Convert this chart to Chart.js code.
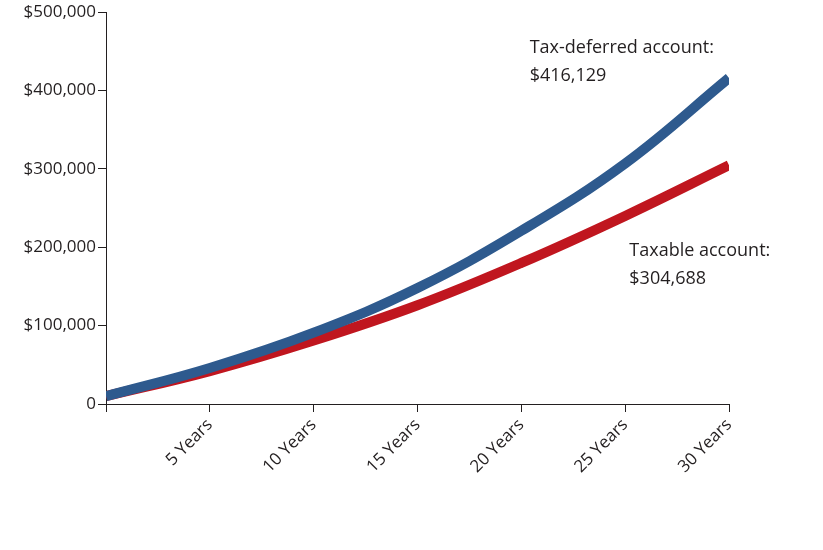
<!DOCTYPE html>
<html>
<head>
<meta charset="utf-8">
<script src="https://cdn.jsdelivr.net/npm/chart.js@4/dist/chart.umd.min.js"></script>
<style>
  html, body { margin: 0; padding: 0; background: #fff; }
  #wrap { width: 823px; height: 550px; }
</style>
</head>
<body>
<div id="wrap"><canvas id="growthChart"></canvas></div>
<script>
// --- data ---
const years = [0, 5, 10, 15, 20, 25, 30];
const taxDeferred = [10000, 46000, 91000, 148000, 221000, 307000, 416129];
const taxable = [10000, 42000, 81000, 126000, 180000, 240000, 304688];
const yTicks = [0, 100000, 200000, 300000, 400000, 500000];

// callout texts: [lines, x in years, y in dollars]
const callouts = [
    [['Tax-deferred account:', '$416,129'], 20.4, 455000],
    [['Taxable account:', '$304,688'], 25.2, 195000]
];

const FONT = '"Open Sans", sans-serif';

// draws the two account labels
const calloutPlugin = {
    id: 'callouts',
    afterDraw(chart) {
        const ctx = chart.ctx;
        const xs = chart.scales.x, ys = chart.scales.y;
        ctx.save();
        ctx.fillStyle = '#231f20';
        ctx.font = '18px ' + FONT;
        ctx.textBaseline = 'middle';
        ctx.textAlign = 'left';
        callouts.forEach(([lines, xv, yv]) => {
            const px = xs.getPixelForValue(xv);
            const py = ys.getPixelForValue(yv);
            lines.forEach((t, i) => ctx.fillText(t, px, py + i * 28));
        });
        ctx.restore();
    }
};

new Chart(document.getElementById('growthChart'), {
    type: 'line',
    data: {
        datasets: [
            {
                label: 'Tax-deferred account',
                data: years.map((x, i) => ({ x: x, y: taxDeferred[i] })),
                borderColor: '#2e5a8e',
                borderWidth: 10,
                pointRadius: 0,
                tension: 0.4,
                order: 1
            },
            {
                label: 'Taxable account',
                data: years.map((x, i) => ({ x: x, y: taxable[i] })),
                borderColor: '#c0161f',
                borderWidth: 10,
                pointRadius: 0,
                tension: 0.4,
                order: 2
            }
        ]
    },
    options: {
        responsive: true,
        maintainAspectRatio: false,
        animation: false,
        layout: { padding: { top: 10, right: 94, left: 0, bottom: 0 } },
        plugins: { legend: { display: false }, tooltip: { enabled: false } },
        scales: {
            x: {
                type: 'linear',
                min: 0, max: 30,
                afterFit(scale) { scale.height = 146; },
                afterBuildTicks(scale) { scale.ticks = years.map(v => ({ value: v })); },
                grid: { drawOnChartArea: false, tickLength: 8, color: '#231f20', lineWidth: 1 },
                border: { display: true, color: '#231f20', width: 1 },
                ticks: {
                    color: '#231f20',
                    font: { family: FONT, size: 17 },
                    minRotation: 45, maxRotation: 45,
                    callback: v => v === 0 ? '' : v + ' Years'
                }
            },
            y: {
                min: 0, max: 500000,
                afterFit(scale) { scale.width = 106; },
                afterBuildTicks(scale) { scale.ticks = yTicks.map(v => ({ value: v })); },
                grid: { drawOnChartArea: false, tickLength: 8, color: '#231f20', lineWidth: 1 },
                border: { display: true, color: '#231f20', width: 1 },
                ticks: {
                    color: '#231f20',
                    padding: 2,
                    font: { family: FONT, size: 17 },
                    callback: v => v === 0 ? '0' : '$' + v.toLocaleString('en-US')
                }
            }
        }
    },
    plugins: [calloutPlugin]
});
</script>
</body>
</html>
